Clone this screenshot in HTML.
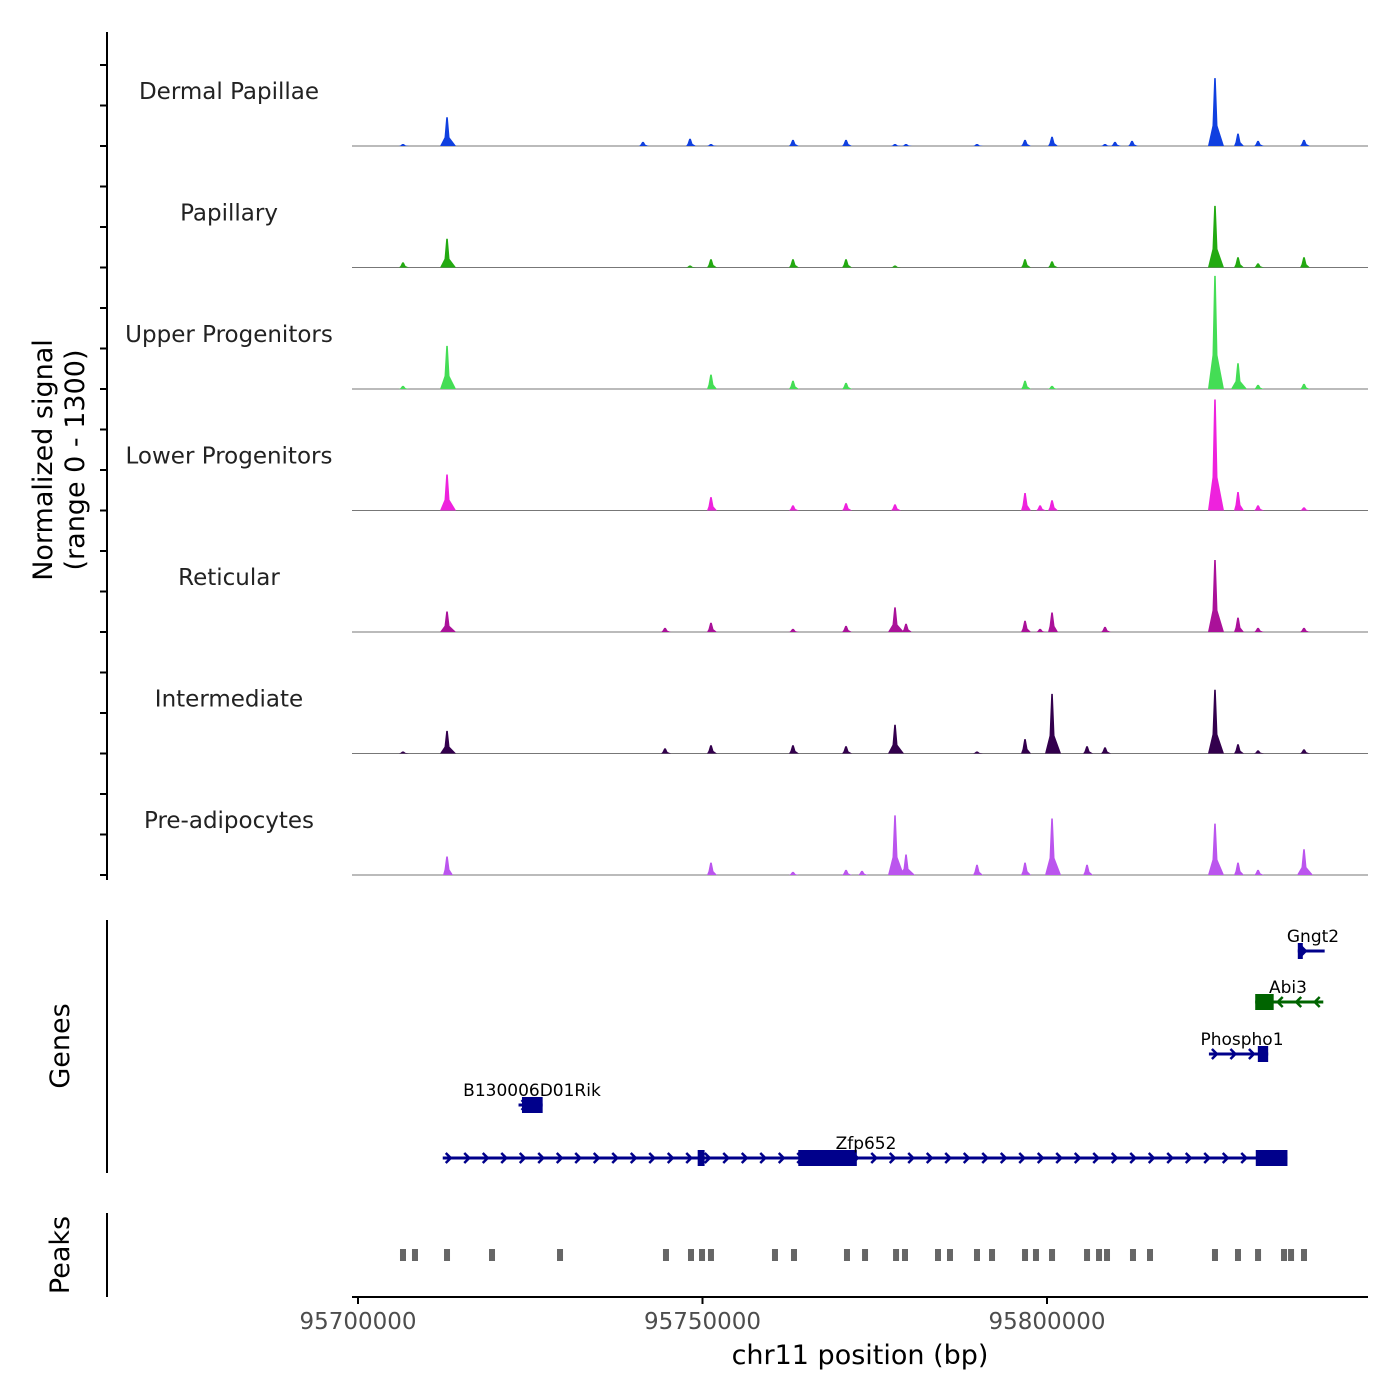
<!DOCTYPE html>
<html><head><meta charset="utf-8"><style>
body{margin:0;background:#fff;}
svg{display:block;font-family:"DejaVu Sans","Liberation Sans",sans-serif;}
</style></head><body>
<svg id="chart" width="1400" height="1400">
<g>
<line x1="107" y1="32" x2="107" y2="880" stroke="#000" stroke-width="2"/>
<g id="lticks"></g>
<text transform="translate(52,460) rotate(-90)" text-anchor="middle" font-size="27" fill="#000">Normalized signal</text>
<text transform="translate(84,460) rotate(-90)" text-anchor="middle" font-size="27" fill="#000">(range 0 - 1300)</text>
</g>
<g id="tracks"></g>
<g>
<line x1="107" y1="920" x2="107" y2="1173" stroke="#000" stroke-width="2"/>
<text transform="translate(69,1046) rotate(-90)" text-anchor="middle" font-size="27">Genes</text>
<g id="genes"></g>
</g>
<g>
<line x1="107" y1="1213" x2="107" y2="1297" stroke="#000" stroke-width="2"/>
<text transform="translate(69,1255) rotate(-90)" text-anchor="middle" font-size="27">Peaks</text>
<g id="peaks"></g>
</g>
<g>
<line x1="352" y1="1297" x2="1368" y2="1297" stroke="#000" stroke-width="2"/>
<g id="xticks"></g>
<text x="860" y="1364" text-anchor="middle" font-size="27">chr11 position (bp)</text>
</g>
</svg>
<script>
const ns="http://www.w3.org/2000/svg";
const trackNames=["Dermal Papillae","Papillary","Upper Progenitors","Lower Progenitors","Reticular","Intermediate","Pre-adipocytes"];
const trackColors=["#1040e0","#22aa11","#44dd55","#ee22dd","#aa1199","#33004d","#bb55ee"];
const peakPos=[95706530,95712920,95741360,95744560,95748190,95751230,95763130,95770830,95773150,95777940,95779540,95789840,95796810,95799000,95800730,95805810,95808420,95809870,95812340,95824380,95827720,95830630,95837300];
const sigDP=[22,308,44,0,77,22,66,66,0,22,22,22,66,0,99,0,22,44,55,726,132,55,66];
const sigPap=[55,308,0,0,22,88,88,88,0,22,0,0,88,0,66,0,0,0,0,660,110,44,110];
const sigUP=[33,462,0,0,0,154,88,66,0,0,0,0,88,0,33,0,0,0,0,1210,275,44,55];
const sigLP=[0,385,0,0,0,143,55,77,0,66,0,0,187,55,110,0,0,0,0,1188,198,55,33];
const sigRet=[0,220,0,44,0,99,33,66,0,264,88,0,121,33,209,0,55,0,0,770,154,44,44];
const sigInt=[22,242,0,55,0,88,88,77,0,308,0,22,154,0,638,77,66,0,0,682,99,33,44];
const sigPre=[0,198,0,0,0,132,33,55,44,638,220,110,132,0,605,110,0,0,0,550,132,55,275];
const signals=[sigDP,sigPap,sigUP,sigLP,sigRet,sigInt,sigPre];
const xTicks=[95700000,95750000,95800000];
const peakRegions=[95706530,95708270,95712920,95719450,95729320,95744700,95748330,95749930,95751230,95760520,95763280,95770970,95773590,95778090,95779390,95784180,95785920,95789840,95792020,95796810,95798400,95800730,95805810,95807550,95808710,95812480,95814950,95824380,95827720,95830630,95834400,95835420,95837300];
const genes=[
 {name:"Gngt2",start:95836400,end:95840300,y:951,dir:1,color:"#00008b",exons:[[95836400,95836900]],lx:1313},
 {name:"Abi3",start:95830220,end:95840100,y:1002,dir:-1,color:"#006400",exons:[[95830220,95832900]],lx:1288},
 {name:"Phospho1",start:95823500,end:95832100,y:1054,dir:1,color:"#00008b",exons:[[95830600,95832100]],lx:1242},
 {name:"B130006D01Rik",start:95723300,end:95726800,y:1105,dir:1,color:"#00008b",exons:[[95723800,95726800]],lx:532},
 {name:"Zfp652",start:95712300,end:95834900,y:1158,dir:1,color:"#00008b",exons:[[95749300,95750300],[95763900,95772400],[95830300,95834900]],lx:866}
];
const X=bp=>358+(bp-95700000)*689/100000;
const trackH=121.5, base0=146, vmax=1300;
function el(t,a,p){const e=document.createElementNS(ns,t);for(const k in a)e.setAttribute(k,a[k]);p.appendChild(e);return e;}
const lt=document.getElementById('lticks');
for(let i=0;i<7;i++){const b=base0+i*trackH;for(let j=0;j<3;j++){const y=b-j*trackH/3;
 const t=el('line',{x1:100,x2:107,y1:y,y2:y,stroke:'#000','stroke-width':2},lt);
 
 }}
const tr=document.getElementById('tracks');
signals.forEach((sig,i)=>{
 const b=base0+i*trackH;
 const g=el('g',{},tr);
 
 
 const lab=el('text',{x:229,y:b-47,'text-anchor':'middle','font-size':23,fill:'#222'},g);lab.textContent=trackNames[i];
 
 
 const bl=el('line',{x1:352,x2:1368,y1:b,y2:b,stroke:'#777','stroke-width':1},g);
 
 
 sig.forEach((v,k)=>{if(!v)return;const x=X(peakPos[k]);const h=v/vmax*trackH;
  const w=h>20?7:4;
  const d=`M${x-w},${b} L${x-2.5},${b-h*0.3} L${x-0.8},${b-h} L${x+0.8},${b-h} L${x+2.5},${b-h*0.3} L${x+w+2},${b} Z`;
  const p=el('path',{d:d,fill:trackColors[i]},g);
  
  });
});
const gg=document.getElementById('genes');
genes.forEach(gn=>{
 const g=el('g',{},gg);
 
 
 const x1=X(gn.start),x2=X(gn.end);
 el('line',{x1:x1,x2:x2,y1:gn.y,y2:gn.y,stroke:gn.color,'stroke-width':3},g);
 for(let x=x1+6;x<x2-4;x+=18.5){const d=gn.dir>0?`M${x-3},${gn.y-5} L${x+2},${gn.y} L${x-3},${gn.y+5}`:`M${x+3},${gn.y-5} L${x-2},${gn.y} L${x+3},${gn.y+5}`;
  el('path',{d:d,stroke:gn.color,'stroke-width':2.5,fill:'none'},g);}
 gn.exons.forEach(e=>{const ex=X(e[0]),ew=Math.max(5,X(e[1])-ex);el('rect',{x:ex,y:gn.y-8,width:ew,height:16,fill:gn.color},g);});
 const t=el('text',{x:gn.lx,y:gn.y-9,'text-anchor':'middle','font-size':17,fill:'#000'},g);t.textContent=gn.name;
 
 
});
const pk=document.getElementById('peaks');
peakRegions.forEach(p=>{const r=el('rect',{x:X(p)-3,y:1249,width:6,height:12,fill:'#666'},pk);
 
 });
const xt=document.getElementById('xticks');
xTicks.forEach(v=>{const x=X(v);el('line',{x1:x,x2:x,y1:1297,y2:1304,stroke:'#000','stroke-width':2},xt);
 const t=el('text',{x:x,y:1329,'text-anchor':'middle','font-size':23,fill:'#4d4d4d'},xt);t.textContent=v;
 
 });
</script>
</body></html>
